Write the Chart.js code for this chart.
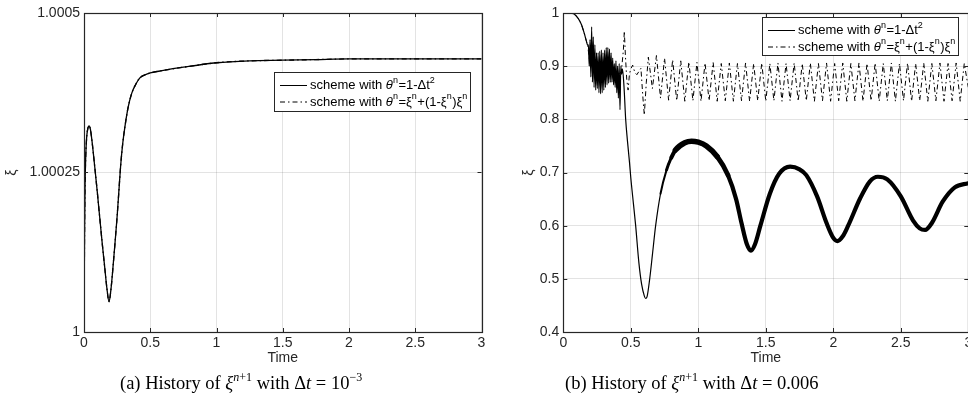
<!DOCTYPE html>
<html>
<head>
<meta charset="utf-8">
<script src="https://cdn.jsdelivr.net/npm/chart.js@4.4.1/dist/chart.umd.min.js"></script>
<style>
  html, body { margin: 0; padding: 0; background: #fff; overflow: hidden; }
  body { width: 968px; height: 411px; position: relative; }
  canvas { position: absolute; top: 0; }
  #chartA { left: 0; }
  #chartB { left: 490px; }
  .cap { position: absolute; top: 373px; font-family: "Liberation Serif", serif; font-size: 18.5px; color: #000; white-space: nowrap; }
  .cap i { font-style: italic; }
  .cap sup { font-size: 12px; vertical-align: 8px; line-height: 0; }
</style>
</head>
<body>
<canvas id="chartA" width="500" height="372"></canvas>
<canvas id="chartB" width="480" height="372"></canvas>
<div class="cap" style="left:120px">(a) History of <i>ξ</i><sup><i>n</i>+1</sup> with Δ<i>t</i> = 10<sup>−3</sup></div>
<div class="cap" style="left:565px">(b) History of <i>ξ</i><sup><i>n</i>+1</sup> with Δ<i>t</i> = 0.006</div>
<script>
// ---- data ----
// (a) dt = 1e-3 : both schemes give the same curve
const timeA = [0, 0.004, 0.008, 0.013, 0.02, 0.028, 0.038, 0.048, 0.06, 0.081, 0.1, 0.118, 0.137, 0.156, 0.172, 0.189,
  0.204, 0.219, 0.235, 0.25, 0.263, 0.276, 0.292, 0.309, 0.333, 0.36, 0.39, 0.42, 0.46, 0.5, 0.6, 0.75, 1.0, 1.25, 1.5,
  1.75, 2.0, 2.5, 3.0];
const xiA1 = [1, 1.00015, 1.00023, 1.000275, 1.000305, 1.000318, 1.000323, 1.000318, 1.0003, 1.000259, 1.00022, 1.000181,
  1.00014, 1.000102, 1.00007, 1.0000475, 1.000068, 1.000102, 1.000142, 1.000181, 1.00022, 1.000259, 1.000295, 1.000322,
  1.000352, 1.000374, 1.000388, 1.000398, 1.000403, 1.000406, 1.00041, 1.000415, 1.000422, 1.000425, 1.000426, 1.000427,
  1.000428, 1.000428, 1.000428];
const xiA2 = [1, 1.00015, 1.00023, 1.000275, 1.000305, 1.000318, 1.000323, 1.000318, 1.0003, 1.000259, 1.00022, 1.000181,
  1.00014, 1.000102, 1.00007, 1.0000475, 1.000068, 1.000102, 1.000142, 1.000181, 1.00022, 1.000259, 1.000295, 1.000322,
  1.000352, 1.000374, 1.000388, 1.000398, 1.000403, 1.000406, 1.00041, 1.000415, 1.000422, 1.000425, 1.000426, 1.000427,
  1.000428, 1.000428, 1.000428];

// (b) dt = 0.006, scheme theta = 1 - dt^2
const timeB1 = [0, 0.05, 0.08, 0.11, 0.135, 0.155, 0.17, 0.18,
  0.186, 0.192, 0.198, 0.204, 0.21, 0.216, 0.222, 0.228, 0.234, 0.24, 0.246, 0.252, 0.258, 0.264, 0.27, 0.276, 0.282,
  0.288, 0.294, 0.3, 0.306, 0.312, 0.318, 0.324, 0.33, 0.336, 0.342, 0.348, 0.354, 0.36, 0.366, 0.372, 0.378, 0.384,
  0.39, 0.396, 0.402, 0.408, 0.414, 0.42, 0.426, 0.432, 0.438,
  0.45, 0.462, 0.475, 0.49, 0.5, 0.52, 0.536, 0.56, 0.58, 0.6, 0.61, 0.62, 0.64, 0.66, 0.684, 0.72, 0.765, 0.8, 0.83,
  0.9, 0.95, 1.0, 1.06, 1.14, 1.22, 1.28, 1.32, 1.36, 1.39, 1.42, 1.46, 1.53, 1.6, 1.68, 1.75, 1.8, 1.88, 1.95, 2.0,
  2.03, 2.07, 2.11, 2.2, 2.27, 2.33, 2.4, 2.5, 2.59, 2.64, 2.68, 2.73, 2.81, 2.9, 3.0];
const xiB1 = [1, 1, 0.998, 0.99, 0.978, 0.962, 0.948, 0.94,
  0.94, 0.9, 0.95, 0.88, 0.974, 0.87, 0.955, 0.86, 0.94, 0.855, 0.925, 0.858, 0.925, 0.85, 0.928, 0.848, 0.93,
  0.85, 0.925, 0.855, 0.93, 0.86, 0.935, 0.865, 0.935, 0.868, 0.932, 0.87, 0.925, 0.87, 0.915, 0.865, 0.905, 0.86,
  0.91, 0.85, 0.9, 0.84, 0.905, 0.818, 0.9, 0.885, 0.895,
  0.86, 0.8, 0.76, 0.72, 0.69, 0.64, 0.6, 0.53, 0.49, 0.468, 0.463, 0.466, 0.5, 0.545, 0.6, 0.66, 0.705, 0.728, 0.742,
  0.756, 0.759, 0.757, 0.75, 0.73, 0.695, 0.65, 0.605, 0.565, 0.553, 0.565, 0.6, 0.66, 0.698, 0.711, 0.706, 0.695,
  0.655, 0.605, 0.577, 0.571, 0.58, 0.6, 0.652, 0.683, 0.692, 0.687, 0.655, 0.61, 0.595, 0.592, 0.605, 0.645, 0.672,
  0.68];

// (b) dt = 0.006, scheme theta = xi + (1 - xi) xi
const timeB2 = [0, 0.05, 0.08, 0.11, 0.135, 0.155, 0.17, 0.18, 0.2, 0.25, 0.3, 0.35, 0.4, 0.43,
  0.445, 0.452, 0.46, 0.47, 0.48, 0.49, 0.5, 0.514, 0.53, 0.545, 0.56, 0.575, 0.59, 0.6, 0.615, 0.63,
  0.66, 0.69, 0.72, 0.75, 0.78, 0.81, 0.84, 0.87, 0.9, 0.93, 0.96, 0.99, 1.02, 1.05, 1.08, 1.11, 1.14, 1.17, 1.2,
  1.23, 1.26, 1.29, 1.32, 1.35, 1.38, 1.41, 1.44, 1.47, 1.5, 1.53, 1.56, 1.59, 1.62, 1.65, 1.68, 1.71, 1.74, 1.77,
  1.8, 1.83, 1.86, 1.89, 1.92, 1.95, 1.98, 2.01, 2.04, 2.07, 2.1, 2.13, 2.16, 2.19, 2.22, 2.25, 2.28, 2.31, 2.34,
  2.37, 2.4, 2.43, 2.46, 2.49, 2.52, 2.55, 2.58, 2.61, 2.64, 2.67, 2.7, 2.73, 2.76, 2.79, 2.82, 2.85, 2.88, 2.91,
  2.94, 2.97, 3.0];
const xiB2 = [1, 1, 0.998, 0.99, 0.978, 0.962, 0.948, 0.94, 0.9, 0.88, 0.89, 0.9, 0.88, 0.89,
  0.93, 0.966, 0.92, 0.875, 0.855, 0.885, 0.895, 0.902, 0.888, 0.884, 0.89, 0.896, 0.84, 0.808, 0.87, 0.917,
  0.858, 0.92, 0.84, 0.915, 0.836, 0.912, 0.835, 0.91, 0.834, 0.908, 0.835, 0.907, 0.834, 0.906, 0.835, 0.907,
  0.834, 0.905, 0.835, 0.906, 0.834, 0.905, 0.835, 0.906, 0.834, 0.905, 0.835, 0.906, 0.834, 0.905, 0.835, 0.906,
  0.834, 0.905, 0.835, 0.906, 0.834, 0.905, 0.835, 0.906, 0.834, 0.905, 0.835, 0.906, 0.834, 0.905, 0.835, 0.906,
  0.834, 0.905, 0.835, 0.906, 0.834, 0.905, 0.835, 0.906, 0.834, 0.905, 0.835, 0.906, 0.834, 0.905, 0.835, 0.906,
  0.834, 0.905, 0.835, 0.906, 0.834, 0.905, 0.835, 0.906, 0.834, 0.905, 0.835, 0.906, 0.834, 0.905, 0.86];

const timeTicks = [0, 0.5, 1, 1.5, 2, 2.5, 3];
const timeTickLabels = ['0', '0.5', '1', '1.5', '2', '2.5', '3'];
const yTicksA = [1, 1.00025, 1.0005];
const yTickLabelsA = ['1', '1.00025', '1.0005'];
const yTicksB = [0.4, 0.5, 0.6, 0.7, 0.8, 0.9, 1];
const yTickLabelsB = ['0.4', '0.5', '0.6', '0.7', '0.8', '0.9', '1'];
// "^" marks a one-character superscript, as in the tex legend
const seriesNames = ['scheme with θ^n=1-Δt^2', 'scheme with θ^n=ξ^n+(1-ξ^n)ξ^n'];

// ---- drawing ----
const AXIS = '#262626';
const FONT = '"Liberation Sans", Arial, sans-serif';

function pts(xs, ys) {
  return xs.map((x, i) => ({x: x, y: ys[i]}));
}

// matlab style box with inward ticks on all four sides
const frame = {
  id: 'frame',
  afterDatasetsDraw(chart) {
    const {ctx, chartArea: a, scales} = chart;
    ctx.save();
    ctx.strokeStyle = AXIS;
    ctx.lineWidth = 1;
    ctx.beginPath();
    scales.x.ticks.forEach(t => {
      const px = Math.round(scales.x.getPixelForValue(t.value)) + 0.5;
      ctx.moveTo(px, a.bottom); ctx.lineTo(px, a.bottom - 4);
      ctx.moveTo(px, a.top); ctx.lineTo(px, a.top + 4);
    });
    scales.y.ticks.forEach(t => {
      const py = Math.round(scales.y.getPixelForValue(t.value)) + 0.5;
      ctx.moveTo(a.left, py); ctx.lineTo(a.left + 4, py);
      ctx.moveTo(a.right, py); ctx.lineTo(a.right - 4, py);
    });
    ctx.stroke();
    ctx.lineWidth = 1.2;
    ctx.strokeRect(Math.round(a.left) + 0.5, Math.round(a.top) + 0.5, Math.round(a.width), Math.round(a.height));
    ctx.restore();
  }
};

// writes text where ^c is drawn as a small raised c
function richText(ctx, str, x, y) {
  for (let i = 0; i < str.length; i++) {
    if (str[i] === '^') {
      i++;
      ctx.font = '9px ' + FONT;
      ctx.fillText(str[i], x, y - 5);
      x += ctx.measureText(str[i]).width + 0.5;
    } else {
      ctx.font = (str[i] === 'θ' ? 'italic ' : '') + '13px ' + FONT;
      ctx.fillText(str[i], x, y);
      x += ctx.measureText(str[i]).width;
    }
  }
}

// legend box placed inside the axes like matlab does
const boxLegend = {
  id: 'boxLegend',
  afterDraw(chart, args, opts) {
    const ctx = chart.ctx;
    const {x, y, w, h} = opts;
    ctx.save();
    ctx.fillStyle = '#fff';
    ctx.fillRect(x, y, w, h);
    ctx.textBaseline = 'middle';
    chart.data.datasets.forEach((ds, i) => {
      const ry = y + 13.5 + i * 16.5;
      ctx.strokeStyle = '#000';
      ctx.lineWidth = 1;
      ctx.setLineDash(ds.borderDash || []);
      ctx.beginPath();
      ctx.moveTo(x + 6, ry); ctx.lineTo(x + 33, ry);
      ctx.stroke();
      ctx.setLineDash([]);
      ctx.fillStyle = '#000';
      richText(ctx, ds.label, x + 36, ry);
    });
    ctx.strokeStyle = AXIS;
    ctx.lineWidth = 1;
    ctx.strokeRect(x + 0.5, y + 0.5, w, h);
    ctx.restore();
  }
};

function makeChart(id, datasets, yMin, yMax, yTicks, yLabels, yWidth, yTitlePad, padRight, legendBox) {
  return new Chart(document.getElementById(id), {
    type: 'line',
    data: {datasets: datasets},
    options: {
      responsive: false,
      animation: false,
      layout: {padding: {top: 13, right: padRight, left: 0, bottom: 0}},
      elements: {point: {radius: 0}},
      plugins: {
        legend: {display: false},
        tooltip: {enabled: false},
        boxLegend: legendBox
      },
      scales: {
        x: {
          type: 'linear', min: 0, max: 3,
          afterBuildTicks: s => { s.ticks = timeTicks.map(v => ({value: v})); },
          afterFit: s => { s.height = 40; s.paddingLeft = 0; s.paddingRight = 0; },
          ticks: {
            callback: (v, i) => timeTickLabels[i],
            autoSkip: false, maxRotation: 0, padding: 3,
            color: AXIS, font: {family: FONT, size: 14}
          },
          grid: {color: 'rgba(38,38,38,0.13)', drawTicks: false},
          border: {display: false},
          title: {display: true, text: 'Time', color: AXIS, font: {family: FONT, size: 14}, padding: {top: 0, bottom: 5}}
        },
        y: {
          type: 'linear', min: yMin, max: yMax,
          afterBuildTicks: s => { s.ticks = yTicks.map(v => ({value: v})); },
          afterFit: s => { s.width = yWidth; s.paddingTop = 0; s.paddingBottom = 0; },
          ticks: {
            callback: (v, i) => yLabels[i],
            autoSkip: false, padding: 4,
            color: AXIS, font: {family: FONT, size: 14}
          },
          grid: {color: 'rgba(38,38,38,0.13)', drawTicks: false},
          border: {display: false},
          title: {display: true, text: 'ξ', color: AXIS, font: {family: FONT, size: 14}, padding: {top: yTitlePad, bottom: 0}}
        }
      }
    },
    plugins: [frame, boxLegend]
  });
}

makeChart('chartA', [
  {label: seriesNames[0], data: pts(timeA, xiA1), borderColor: '#000', borderWidth: 1.3,
    cubicInterpolationMode: 'monotone'},
  {label: seriesNames[1], data: pts(timeA, xiA2), borderColor: '#000', borderWidth: 1.3,
    borderDash: [5, 3, 1.5, 3], cubicInterpolationMode: 'monotone'}
], 1, 1.0005, yTicksA, yTickLabelsA, 84, 4, 18.5, {x: 274, y: 72, w: 196, h: 39});

// the fast step-to-step oscillation of scheme 1 shows up as a dark band; mimic it with line width
function bandWidth(c) {
  const t = c.p0.parsed.x;
  if (t < 0.72) return 1.2;
  if (t < 0.765) return 2;
  if (t < 0.8) return 3;
  if (t < 0.83) return 4;
  if (t < 1.14) return 5.5;
  if (t < 1.22) return 4.8;
  return 4.2;
}

makeChart('chartB', [
  {label: seriesNames[0], data: pts(timeB1, xiB1), borderColor: '#000', borderWidth: 1.2,
    cubicInterpolationMode: 'monotone', borderCapStyle: 'round', borderJoinStyle: 'round',
    segment: {borderWidth: bandWidth}},
  {label: seriesNames[1], data: pts(timeB2, xiB2), borderColor: '#000', borderWidth: 1,
    borderDash: [5, 3, 1.5, 3], tension: 0}
], 0.4, 1, yTicksB, yTickLabelsB, 73.3, 31, 1.7, {x: 272, y: 17, w: 196, h: 38});
</script>
</body>
</html>
